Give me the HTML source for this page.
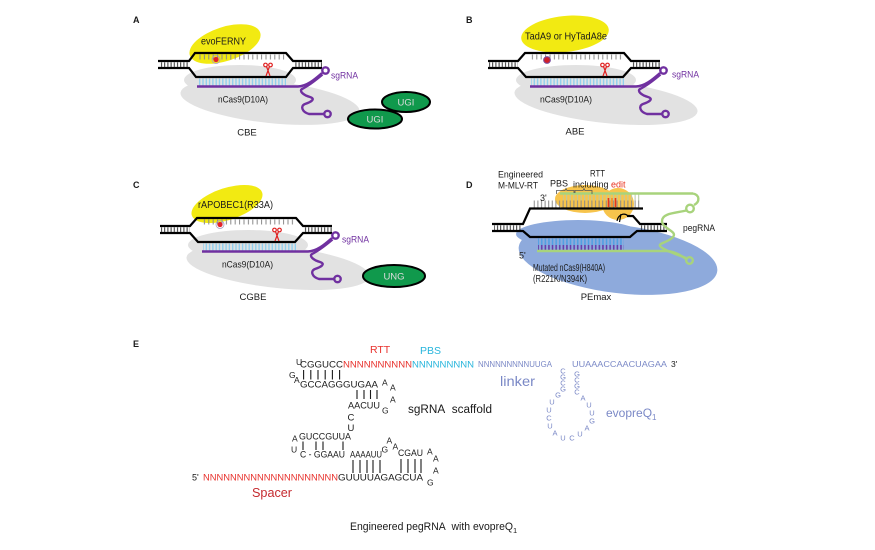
<!DOCTYPE html>
<html><head><meta charset="utf-8"><style>
html,body{margin:0;padding:0;background:#fff;}
svg{display:block;}
text{font-family:"Liberation Sans",Arial,sans-serif;fill:#1a1a1a;}
</style></head><body>
<svg width="875" height="550" viewBox="0 0 875 550" xmlns="http://www.w3.org/2000/svg">
<defs>
<pattern id="rg" width="3.2" height="10" patternUnits="userSpaceOnUse"><rect x="1" y="0" width="1" height="10" fill="#333"/></pattern>
<pattern id="tk" width="4.4" height="10" patternUnits="userSpaceOnUse"><rect x="1.5" y="0" width="1" height="10" fill="#8a8a8a"/></pattern>
<pattern id="bl" width="3.3" height="10" patternUnits="userSpaceOnUse"><rect x="1" y="0" width="1.4" height="10" fill="#8fd0ef"/></pattern>
<pattern id="bd" width="3.6" height="10" patternUnits="userSpaceOnUse"><rect x="1" y="0" width="1.5" height="10" fill="#4e9fe3"/></pattern>
<pattern id="pd" width="3.6" height="10" patternUnits="userSpaceOnUse"><rect x="1" y="0" width="1.5" height="10" fill="#6438a6"/></pattern>
<pattern id="tk2" width="3.6" height="10" patternUnits="userSpaceOnUse"><rect x="1" y="0" width="1" height="10" fill="#8a8a8a"/></pattern>
<pattern id="lg" width="3.6" height="10" patternUnits="userSpaceOnUse"><rect x="1" y="0" width="1" height="10" fill="#b9c9a6"/></pattern>
</defs>

<!-- ================= PANEL A ================= -->
<text x="133" y="23" font-size="9" font-weight="bold">A</text>
<ellipse cx="270" cy="102" rx="90" ry="21" transform="rotate(6 270 102)" fill="#e2e2e2"/>
<ellipse cx="240" cy="80" rx="56" ry="15" fill="#e2e2e2"/>
<ellipse cx="225" cy="44" rx="37" ry="17" transform="rotate(-18 225 44)" fill="#f2ea12"/>
<text x="201" y="44.5" font-size="10" textLength="45" lengthAdjust="spacingAndGlyphs">evoFERNY</text>
<rect x="159" y="62.3" width="30" height="4.6" fill="url(#rg)"/>
<rect x="294" y="62.3" width="28" height="4.6" fill="url(#rg)"/>
<rect x="198" y="54.5" width="87" height="5" fill="url(#tk)"/>
<rect x="198" y="78.5" width="88" height="7" fill="url(#bl)"/>
<path d="M158,61 H189 L195,53 H286 L293,61 H322 M158,68 H189 L196,77 H286 L293,68 H322" fill="none" stroke="#000" stroke-width="2.2"/>
<g fill="none" stroke="#7030a0" stroke-width="2.4">
<path d="M197,86.5 H298 C307,86 314,80 322,73"/>
<circle cx="325.5" cy="70.5" r="3.2"/>
<path d="M322.5,74.5 C316,80 308,86 302,89 C299,91 303,95 310,97 C316,99 311,102 305,104 C300,106 302,112 309,114 L324,114"/>
<circle cx="327.5" cy="114" r="3.2"/>
</g>
<circle cx="216" cy="59.5" r="4" fill="none" stroke="#a89cc0" stroke-width="0.8"/>
<circle cx="216" cy="59.5" r="2.6" fill="#e3232b"/>
<g stroke="#e02020" stroke-width="1.2" fill="none"><circle cx="265.5" cy="65" r="1.8"/><circle cx="270.5" cy="65" r="1.8"/><path d="M266.5,66.5 L270,76 M269.5,66.5 L266,76"/></g>
<text x="331" y="78.5" font-size="9.5" style="fill:#7030a0" textLength="27" lengthAdjust="spacingAndGlyphs">sgRNA</text>
<text x="218" y="102.7" font-size="9.5" textLength="50" lengthAdjust="spacingAndGlyphs">nCas9(D10A)</text>
<text x="247" y="135.5" font-size="9.5" text-anchor="middle">CBE</text>
<ellipse cx="406" cy="102" rx="24" ry="10" fill="#10994c" stroke="#000" stroke-width="2"/>
<text x="406" y="105.5" font-size="9.5" text-anchor="middle" style="fill:#dcdcdc">UGI</text>
<ellipse cx="375" cy="119" rx="27" ry="9.5" fill="#10994c" stroke="#000" stroke-width="2"/>
<text x="375" y="122.5" font-size="9.5" text-anchor="middle" style="fill:#dcdcdc">UGI</text>

<!-- ================= PANEL B ================= -->
<text x="466" y="23" font-size="9" font-weight="bold">B</text>
<g transform="translate(328,0)">
<ellipse cx="278" cy="102" rx="92" ry="21" transform="rotate(6 278 102)" fill="#e2e2e2"/>
<ellipse cx="248" cy="80" rx="60" ry="15" fill="#e2e2e2"/>
</g>
<ellipse cx="565" cy="34" rx="44" ry="18" transform="rotate(-6 565 34)" fill="#f2ea12"/>
<text x="525" y="39.5" font-size="10" textLength="82" lengthAdjust="spacingAndGlyphs">TadA9 or HyTadA8e</text>
<g transform="translate(328,0)">
<rect x="161" y="62.3" width="29" height="4.6" fill="url(#rg)"/>
<rect x="304" y="62.3" width="28" height="4.6" fill="url(#rg)"/>
<rect x="201" y="54.5" width="94" height="5" fill="url(#tk)"/>
<rect x="203" y="78.5" width="93" height="7" fill="url(#bl)"/>
<path d="M160,61 H190 L197,53 H296 L303,61 H332 M160,68 H190 L198,77 H295 L303,68 H332" fill="none" stroke="#000" stroke-width="2.2"/>
<g fill="none" stroke="#7030a0" stroke-width="2.4">
<path d="M202,86.5 H308 C317,86 324,80 332,73"/>
<circle cx="335.5" cy="70.5" r="3.2"/>
<path d="M332.5,74.5 C326,80 318,86 312,89 C309,91 313,95 320,97 C326,99 321,102 315,104 C310,106 312,112 319,114 L334,114"/>
<circle cx="337.5" cy="114" r="3.2"/>
</g>
</g>
<circle cx="547" cy="60" r="3.4" fill="#d0202a" stroke="#7a4fa0" stroke-width="1"/>
<g stroke="#e02020" stroke-width="1.2" fill="none"><circle cx="602.5" cy="65" r="1.8"/><circle cx="607.5" cy="65" r="1.8"/><path d="M603.5,66.5 L607,76 M606.5,66.5 L603,76"/></g>
<text x="672" y="77.5" font-size="9.5" style="fill:#7030a0" textLength="27" lengthAdjust="spacingAndGlyphs">sgRNA</text>
<text x="540" y="102.5" font-size="9.5" textLength="52" lengthAdjust="spacingAndGlyphs">nCas9(D10A)</text>
<text x="575" y="134.5" font-size="9.5" text-anchor="middle">ABE</text>

<!-- ================= PANEL C ================= -->
<text x="133" y="188" font-size="9" font-weight="bold">C</text>
<g transform="translate(0,165)">
<ellipse cx="278" cy="102" rx="92" ry="21" transform="rotate(6 278 102)" fill="#e2e2e2"/>
<ellipse cx="248" cy="80" rx="60" ry="15" fill="#e2e2e2"/>
</g>
<ellipse cx="227" cy="204" rx="37" ry="16" transform="rotate(-18 227 204)" fill="#f2ea12"/>
<text x="198" y="208" font-size="10" textLength="75" lengthAdjust="spacingAndGlyphs">rAPOBEC1(R33A)</text>
<g transform="translate(0,165)">
<rect x="161" y="62.3" width="29" height="4.6" fill="url(#rg)"/>
<rect x="304" y="62.3" width="28" height="4.6" fill="url(#rg)"/>
<rect x="201" y="54.5" width="94" height="5" fill="url(#tk)"/>
<rect x="203" y="78.5" width="93" height="7" fill="url(#bl)"/>
<path d="M160,61 H190 L197,53 H296 L303,61 H332 M160,68 H190 L198,77 H295 L303,68 H332" fill="none" stroke="#000" stroke-width="2.2"/>
<g fill="none" stroke="#7030a0" stroke-width="2.4">
<path d="M202,86.5 H308 C317,86 324,80 332,73"/>
<circle cx="335.5" cy="70.5" r="3.2"/>
<path d="M332.5,74.5 C326,80 318,86 312,89 C309,91 313,95 320,97 C326,99 321,102 315,104 C310,106 312,112 319,114 L334,114"/>
<circle cx="337.5" cy="114" r="3.2"/>
</g>
</g>
<circle cx="220" cy="224.5" r="4" fill="none" stroke="#a89cc0" stroke-width="0.8"/>
<circle cx="220" cy="224.5" r="2.6" fill="#e3232b"/>
<g stroke="#e02020" stroke-width="1.2" fill="none"><circle cx="274.5" cy="230" r="1.8"/><circle cx="279.5" cy="230" r="1.8"/><path d="M275.5,231.5 L279,241 M278.5,231.5 L275,241"/></g>
<text x="342" y="242.5" font-size="9.5" style="fill:#7030a0" textLength="27" lengthAdjust="spacingAndGlyphs">sgRNA</text>
<text x="222" y="267.5" font-size="9.5" textLength="51" lengthAdjust="spacingAndGlyphs">nCas9(D10A)</text>
<text x="253" y="300" font-size="9.5" text-anchor="middle">CGBE</text>
<ellipse cx="394" cy="276" rx="31" ry="11" fill="#10994c" stroke="#000" stroke-width="2"/>
<text x="394" y="279.5" font-size="9.5" text-anchor="middle" style="fill:#dcdcdc">UNG</text>

<!-- ================= PANEL D ================= -->
<text x="466" y="188" font-size="9" font-weight="bold">D</text>
<ellipse cx="618" cy="259" rx="100" ry="34" transform="rotate(7 618 259)" fill="#8eaadc"/>
<ellipse cx="578" cy="234" rx="62" ry="14" fill="#8eaadc"/>
<ellipse cx="585" cy="199" rx="30" ry="14" fill="#f7c44c"/>
<ellipse cx="618" cy="204" rx="16" ry="16" fill="#f7c44c"/>
<rect x="533" y="200.5" width="108" height="7.5" fill="url(#tk2)"/>
<rect x="563" y="194.5" width="78" height="6" fill="url(#lg)"/>
<path d="M608.5,198 V207 M615.5,198 V207" stroke="#e8321e" stroke-width="1.6"/>
<path d="M612,198 V207" stroke="#f08a2a" stroke-width="1.6"/>
<path d="M560,193.5 H693" stroke="#a8d37c" stroke-width="2.4" fill="none"/>
<rect x="494" y="225.3" width="28" height="5" fill="url(#rg)"/>
<rect x="640" y="225.3" width="27" height="5" fill="url(#rg)"/>
<rect x="538" y="238.5" width="86" height="6.5" fill="url(#bd)"/>
<rect x="538" y="245" width="86" height="5" fill="url(#pd)"/>
<path d="M643,208.5 H530 L523,224 H492 M492,231 H523 L530,237 H630 L637,231 H667 M627,216 H633 L640,224 H667" fill="none" stroke="#000" stroke-width="2.2"/>
<path d="M617,221 C618,215 624,212 628,216 M621,214 L619.5,222" stroke="#000" stroke-width="1.2" fill="none"/>
<g fill="none" stroke="#a8d37c" stroke-width="2.4">
<path d="M537,251 H667 C676,252 682,256 686,259"/>
<path d="M693,193.5 C700,195 700,202 694,205"/>
<circle cx="690" cy="208.5" r="3.8"/>
<path d="M686.5,210.5 C676,213 662,213 662,221 C662,229 678,231 673,237 C668,243 656,243 661,247 C666,251 678,255 686,258"/>
<circle cx="689.5" cy="260.5" r="3.3"/>
</g>
<text x="498" y="177.5" font-size="9" textLength="45" lengthAdjust="spacingAndGlyphs">Engineered</text>
<text x="498" y="188.5" font-size="9" textLength="40" lengthAdjust="spacingAndGlyphs">M-MLV-RT</text>
<text x="550" y="186.5" font-size="9" textLength="18" lengthAdjust="spacingAndGlyphs">PBS</text>
<text x="590" y="176.5" font-size="9" textLength="15" lengthAdjust="spacingAndGlyphs">RTT</text>
<text x="573" y="187.5" font-size="9">including <tspan style="fill:#e8321e">edit</tspan></text>
<path d="M556.5,194 V190.5 H565 L566,188.5 L567,190.5 H574 V193 M575,193 V190.5 H583 L584,188.5 L585,190.5 H592 V194" fill="none" stroke="#555" stroke-width="0.8"/>
<text x="540" y="201" font-size="9">3'</text>
<text x="519" y="258.5" font-size="9">5'</text>
<text x="533" y="271" font-size="9.8" textLength="72" lengthAdjust="spacingAndGlyphs">Mutated nCas9(H840A)</text>
<text x="533" y="282" font-size="9.8" textLength="54" lengthAdjust="spacingAndGlyphs">(R221K/N394K)</text>
<text x="683" y="231" font-size="9.5" textLength="32" lengthAdjust="spacingAndGlyphs">pegRNA</text>
<text x="596" y="300" font-size="9.5" text-anchor="middle">PEmax</text>

<!-- ================= PANEL E ================= -->
<text x="133" y="347" font-size="9" font-weight="bold">E</text>
<text x="370" y="353" font-size="10.5" style="fill:#e8322d">RTT</text>
<text x="420" y="354" font-size="10.5" style="fill:#27b5dc">PBS</text>

<g font-size="9.5">
<text x="296" y="365" font-size="8.5">U</text>
<text x="289" y="378" font-size="8.5">G</text>
<text x="294" y="383" font-size="8.5">A</text>
<text x="300" y="367.5" textLength="43" lengthAdjust="spacingAndGlyphs">CGGUCC</text>
<text x="343" y="367.5" textLength="69" lengthAdjust="spacingAndGlyphs" style="fill:#e8322d">NNNNNNNNNN</text>
<text x="412" y="367.5" textLength="62" lengthAdjust="spacingAndGlyphs" style="fill:#27b5dc">NNNNNNNNN</text>
<text x="300" y="387.5" textLength="78" lengthAdjust="spacingAndGlyphs">GCCAGGGUGAA</text>
<text x="382" y="385.5" font-size="8.5">A</text>
<text x="390" y="390.5" font-size="8.5">A</text>
<text x="390" y="402.5" font-size="8.5">A</text>
<text x="382" y="413.5" font-size="8.5">G</text>
<text x="348" y="408.5" textLength="32" lengthAdjust="spacingAndGlyphs">AACUU</text>
<text x="347.5" y="420.5">C</text>
<text x="347.5" y="431">U</text>
<text x="292" y="441.5" font-size="8.5">A</text>
<text x="299" y="439.5" textLength="52" lengthAdjust="spacingAndGlyphs">GUCCGUUA</text>
<text x="291" y="452.5" font-size="8.5">U</text>
<text x="300" y="457.5" textLength="45" lengthAdjust="spacingAndGlyphs">C&#160;-&#160;GGAAU</text>
<text x="350" y="457.5" textLength="32" lengthAdjust="spacingAndGlyphs">AAAAUU</text>
<text x="381.5" y="452.5" font-size="8.5">G</text>
<text x="386.5" y="443.5" font-size="8.5">A</text>
<text x="392.5" y="449.5" font-size="8.5">A</text>
<text x="398" y="456" textLength="25" lengthAdjust="spacingAndGlyphs">CGAU</text>
<text x="427" y="454.5" font-size="8.5">A</text>
<text x="433" y="461.5" font-size="8.5">A</text>
<text x="433" y="473.5" font-size="8.5">A</text>
<text x="427" y="485.5" font-size="8.5">G</text>
<text x="192" y="480.5" font-size="9">5'</text>
<text x="203" y="480.5" textLength="135" lengthAdjust="spacingAndGlyphs" style="fill:#e8322d">NNNNNNNNNNNNNNNNNNNN</text>
<text x="338" y="480.5" textLength="85" lengthAdjust="spacingAndGlyphs">GUUUUAGAGCUA</text>
</g>
<g stroke="#1a1a1a" stroke-width="1.1">
<path d="M303.6,370 V379.5 M310.8,370 V379.5 M318,370 V379.5 M325.2,370 V379.5 M332.4,370 V379.5 M339.6,370 V379.5"/>
<path d="M357,390 V399 M364,390 V399 M370.5,390 V399 M377,390 V399"/>
<path d="M303,441.5 V450 M316,441.5 V450 M323,441.5 V450 M343,441.5 V450"/>
<path d="M353,460 V473 M360,460 V473 M367,460 V473 M373,460 V473 M380,460 V473"/>
<path d="M401,459 V473 M408,459 V473 M415,459 V473 M421,459 V473"/>
</g>
<text x="252" y="497" font-size="12.5" textLength="40" lengthAdjust="spacingAndGlyphs" style="fill:#c52a2f">Spacer</text>
<text x="408" y="413" font-size="11.5" textLength="84" lengthAdjust="spacingAndGlyphs">sgRNA&#160; scaffold</text>

<g style="fill:#7a88c6">
<text x="478" y="367" font-size="8" textLength="74" lengthAdjust="spacingAndGlyphs" style="fill:#7a88c6">NNNNNNNNNUUGA</text>
<text x="572" y="367" font-size="8.5" textLength="95" lengthAdjust="spacingAndGlyphs" style="fill:#7a88c6">UUAAACCAACUAGAA</text>
<text x="500" y="386" font-size="14" textLength="35" lengthAdjust="spacingAndGlyphs" style="fill:#7a88c6">linker</text>
<text x="606" y="417" font-size="12" style="fill:#7a88c6">evopreQ<tspan font-size="8" dy="3" style="fill:#7a88c6">1</tspan></text>
</g>
<text x="671" y="367" font-size="8.5">3'</text>
<g font-size="7.5" text-anchor="middle" style="fill:#7a88c6">
<text x="563" y="373.7" style="fill:#7a88c6">C</text>
<text x="563" y="379.7" style="fill:#7a88c6">G</text>
<text x="563" y="385.7" style="fill:#7a88c6">C</text>
<text x="563" y="391.7" style="fill:#7a88c6">G</text>
<text x="558" y="397.7" style="fill:#7a88c6">G</text>
<text x="552" y="404.7" style="fill:#7a88c6">U</text>
<text x="549" y="412.7" style="fill:#7a88c6">U</text>
<text x="549" y="420.7" style="fill:#7a88c6">C</text>
<text x="550" y="428.7" style="fill:#7a88c6">U</text>
<text x="555" y="435.7" style="fill:#7a88c6">A</text>
<text x="563" y="440.7" style="fill:#7a88c6">U</text>
<text x="572" y="440.7" style="fill:#7a88c6">C</text>
<text x="580" y="436.7" style="fill:#7a88c6">U</text>
<text x="587" y="430.7" style="fill:#7a88c6">A</text>
<text x="592" y="423.7" style="fill:#7a88c6">G</text>
<text x="592" y="415.7" style="fill:#7a88c6">U</text>
<text x="589" y="407.7" style="fill:#7a88c6">U</text>
<text x="583" y="400.7" style="fill:#7a88c6">A</text>
<text x="577" y="394.7" style="fill:#7a88c6">C</text>
<text x="577" y="388.7" style="fill:#7a88c6">G</text>
<text x="577" y="382.7" style="fill:#7a88c6">C</text>
<text x="577" y="376.7" style="fill:#7a88c6">G</text>
</g>

<text x="350" y="530" font-size="11" textLength="163" lengthAdjust="spacingAndGlyphs">Engineered pegRNA&#160; with evopreQ</text>
<text x="513" y="533" font-size="7.5">1</text>
</svg>
</body></html>
